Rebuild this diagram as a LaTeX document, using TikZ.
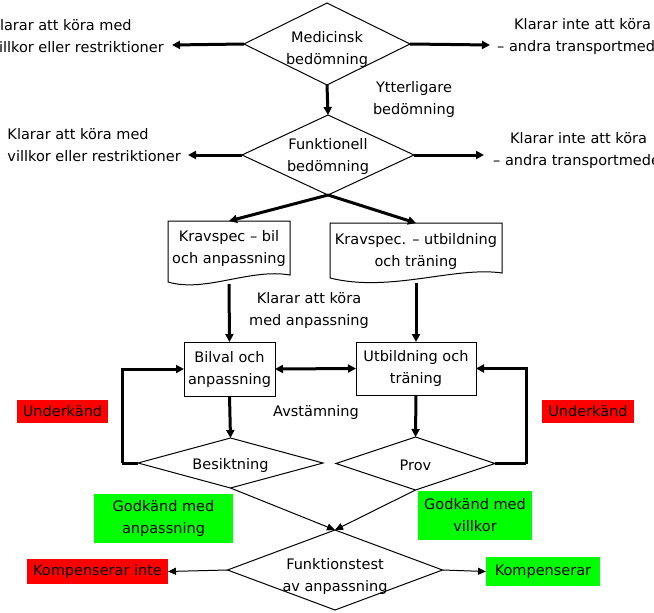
\documentclass[tikz,border=0pt]{standalone}
\usepackage{fontspec}
\setmainfont{DejaVu Sans}
\usetikzlibrary{arrows.meta,shapes.geometric}
\definecolor{redbox}{RGB}{255,0,0}
\definecolor{greenbox}{RGB}{0,255,0}
\tikzset{
  x=1pt,y=-1pt,
  txt/.style={font=\fontsize{14.5}{22}\selectfont, align=center, inner sep=0pt},
  txtl/.style={font=\fontsize{14.5}{22}\selectfont, align=left, inner sep=0pt},
  diam/.style={diamond, draw, line width=1pt, inner sep=0pt, outer sep=0pt},
  procbox/.style={rectangle, draw, line width=1pt, inner sep=0pt, outer sep=0pt, font=\fontsize{14.5}{22}\selectfont, align=center},
  docnode/.style={rectangle, inner sep=0pt, outer sep=0pt},
  docline/.style={line width=1pt},
  colbox/.style={rectangle, inner sep=0pt, outer sep=0pt, font=\fontsize{14.5}{22}\selectfont, align=center},
  thickarr/.style={line width=3pt, -{Triangle[length=8pt,width=8pt]}},
  thickline/.style={line width=3pt},
  thinarr/.style={line width=1pt, -{Triangle[length=8pt,width=7pt]}},
}
\begin{document}
\begin{tikzpicture}
\useasboundingbox (0,0) rectangle (654,613);
\clip (0,0) rectangle (654,613);

% diamonds
\node[diam, minimum width=166pt, minimum height=82pt] (med) at (327,44) {};
\node[txt] (medt) at (327,49) {Medicinsk\\bedömning};
\node[diam, minimum width=172pt, minimum height=80pt] (fun) at (328,155) {};
\node[txt] (funt) at (328,156.5) {Funktionell\\bedömning};

\node[txt] (ytt) at (414,99) {Ytterligare\\bedömning};

% side texts
\node[txtl, anchor=east] (l1) at (164,36) {Klarar att köra med\\villkor eller restriktioner};
\node[txtl, anchor=east] (l2) at (181,145) {Klarar att köra med\\villkor eller restriktioner};
\node[txt, anchor=west] (r1) at (497,36) {Klarar inte att köra\\– andra transportmedel};
\node[txt, anchor=west] (r2) at (493,150) {Klarar inte att köra\\– andra transportmedel};
\coordinate (l1e) at (172,45);
\coordinate (l2e) at (188,155);
\coordinate (r1e) at (490,45);
\coordinate (r2e) at (484,155);

\draw[thickarr] (med.west) -- (l1e);
\draw[thickarr] (med.east) -- (r1e);
\draw[thickarr] (med.south) -- (fun.north);
\draw[thickarr] (fun.west) -- (l2e);
\draw[thickarr] (fun.east) -- (r2e);

% documents
\node[docnode, minimum width=122pt, minimum height=63pt] (kb) at (229,252.5) {};
\draw[docline] (168,282) -- (168,221) -- (290,221) -- (290,275)
  .. controls (250,268) and (205,293) .. cycle;
\node[txt] (kbt) at (229,248) {Kravspec – bil\\och anpassning};

\node[docnode, minimum width=172pt, minimum height=60pt] (ku) at (416,253) {};
\draw[docline] (330,278) -- (330,223) -- (502,223) -- (502,273)
  .. controls (455,266) and (390,293) .. cycle;
\node[txt] (kut) at (416,251) {Kravspec. – utbildning\\och träning};

\draw[thickarr] (fun.south) -- (kb.north);
\draw[thickarr] (fun.south) -- (ku.north);

\node[txt] (kak) at (309,310) {Klarar att köra\\med anpassning};

% process boxes
\node[procbox, minimum width=91pt, minimum height=54pt] (bil) at (229.5,369) {Bilval och\\anpassning};
\node[procbox, minimum width=120pt, minimum height=53pt] (utb) at (416,368.5) {Utbildning och\\träning};

\draw[thickarr] (kb.south) -- (bil.north);
\draw[thickarr] (ku.south) -- (utb.north);
\draw[line width=3pt, {Triangle[length=8pt,width=8pt]}-{Triangle[length=8pt,width=8pt]}] (bil.east) -- (utb.west);

\node[txt] (avs) at (316,412) {Avstämning};

% test diamonds
\node[diam, minimum width=185pt, minimum height=50pt] (bes) at (230.5,463) {};
\node[txt] (best) at (230.5,465) {Besiktning};
\node[diam, minimum width=159pt, minimum height=53pt] (prov) at (415.5,463.5) {};
\node[txt] (provt) at (415.5,465) {Prov};

\draw[thickarr] (bil.south) -- (bes.north);
\draw[thickarr] (utb.south) -- (prov.north);

\draw[thickline] (bes.west) -- ++(-16,0) coordinate (lb);
\draw[thickarr] (lb) |- (bil.west);
\draw[thickline] (prov.east) -- ++(31,0) coordinate (rb);
\draw[thickarr] (rb) |- (utb.east);

% colour boxes
\node[colbox, fill=redbox, minimum width=91pt, minimum height=23pt] (ul) at (62.5,411.5) {Underkänd};
\node[colbox, fill=redbox, minimum width=92pt, minimum height=23pt] (ur) at (588,411.5) {Underkänd};
\node[colbox, fill=greenbox, minimum width=139pt, minimum height=49pt] (ga) at (163.5,518.5) {Godkänd med\\anpassning};
\node[colbox, fill=greenbox, minimum width=114pt, minimum height=49pt] (gv) at (475,515.5) {Godkänd med\\villkor};

% final diamond
\node[diam, minimum width=215pt, minimum height=80pt] (ft) at (335,570) {};
\node[txt] (ftt) at (335,576) {Funktionstest\\av anpassning};

\draw[thinarr] (bes.south) -- (ft.north);
\draw[thinarr] (prov.south) -- (ft.north);

\node[colbox, fill=redbox, minimum width=141pt, minimum height=25pt] (ki) at (97.5,571.5) {Kompenserar inte};
\node[colbox, fill=greenbox, minimum width=114pt, minimum height=29pt] (ko) at (543,571.5) {Kompenserar};

\draw[thinarr] (ft.west) -- (ki.east);
\draw[thinarr] (ft.east) -- (ko.west);
\end{tikzpicture}
\end{document}
